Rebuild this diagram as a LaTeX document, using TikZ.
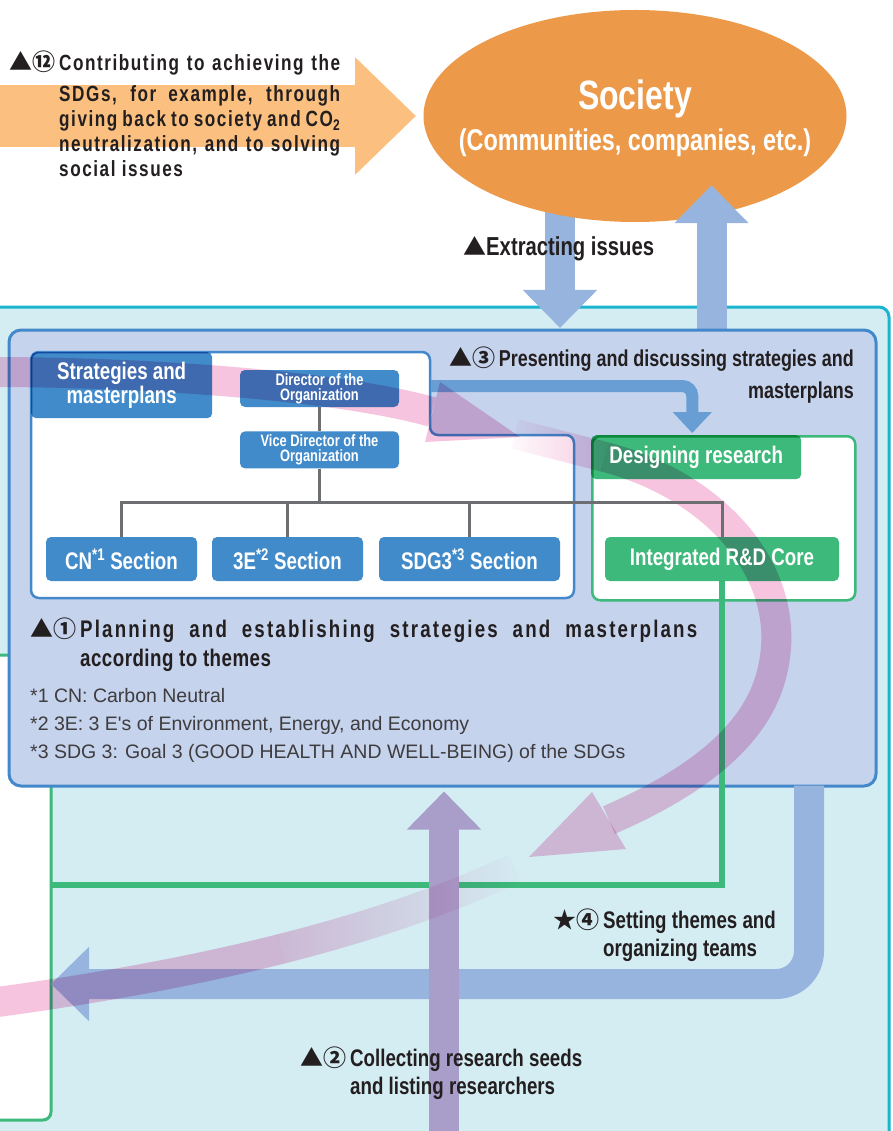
\documentclass[tikz,border=0pt]{standalone}
\usepackage{fontspec}
\setmainfont{Liberation Sans}
\newfontfamily\cond{Liberation Sans}[FakeStretch=0.78]
\newfontfamily\sym{Noto Sans CJK SC}
\usetikzlibrary{arrows.meta,positioning,calc,shapes.geometric,fadings}

\definecolor{socorange}{RGB}{236,154,74}
\definecolor{lightorange}{RGB}{251,192,127}
\definecolor{arrowblue}{RGB}{150,180,222}
\definecolor{midblue}{RGB}{104,158,212}
\definecolor{cyanbg}{RGB}{212,237,243}
\definecolor{cyanline}{RGB}{26,180,206}
\definecolor{boxblue}{RGB}{197,211,237}
\definecolor{boxline}{RGB}{67,136,202}
\definecolor{secblue}{RGB}{66,139,202}
\definecolor{coregreen}{RGB}{61,186,123}
\definecolor{treegray}{RGB}{109,110,113}
\definecolor{seedpurple}{RGB}{169,157,201}
\definecolor{loopink}{RGB}{246,196,222}
\definecolor{inktext}{RGB}{35,31,32}
\definecolor{footgray}{RGB}{62,60,62}

\begin{document}
\begin{tikzpicture}[x=1pt, y=-1pt]
    \tikzstyle{fat}=[line width=30pt, arrowblue, -{Triangle[length=38pt,width=72pt]}]
    \tikzstyle{loop}=[line width=30pt, loopink, blend mode=multiply]
    \tikzstyle{loophead}=[fill=loopink, blend mode=multiply]
    \tikzstyle{boxbase}=[rounded corners=5pt, inner sep=0pt, minimum height=44pt, text=white,
                        font=\cond\bfseries\fontsize{24}{24}\selectfont]
    \tikzstyle{secbox}=[boxbase, preaction={fill=secblue, blend mode=multiply}]
    \tikzstyle{greenbox}=[boxbase, preaction={fill=coregreen, blend mode=multiply}]
    \tikzstyle{headbox}=[secbox, minimum height=37pt, minimum width=159pt, align=center,
                        font=\cond\bfseries\fontsize{16.5}{15}\selectfont]
    \tikzstyle{tab}=[anchor=north west, rounded corners=8pt, align=center,
                        font=\cond\bfseries\fontsize{26}{28}\selectfont]
    \tikzstyle{tree}=[line width=3pt, treegray]
    \tikzstyle{note}=[inner sep=0pt, text=inktext, font=\cond\bfseries\fontsize{24}{28}\selectfont]

    \useasboundingbox (0,0) rectangle (892,1131);
    \clip (0,0) rectangle (892,1131);

    % Backgrounds
    \draw[cyanline, line width=3pt, fill=cyanbg, rounded corners=10pt]
        (-10,307) -- (889,307) -- (889,1150) -- (-10,1150) -- cycle;
    \node[draw=coregreen, fill=white, line width=3pt, rounded corners=8pt, inner sep=0pt,
          minimum width=80pt, minimum height=465pt] (field) at (11,887.5) {};

    % Society and its arrows
    \coordinate (contribtip) at (416,116);
    \draw[line width=62pt, lightorange, -{Triangle[length=61pt,width=114pt]}] (-5,116) -- (contribtip);
    \coordinate (issuestart) at (560,200);
    \coordinate (issuetip) at (560,328);
    \draw[fat] (issuestart) -- (issuetip);
    \node[ellipse, fill=socorange, minimum width=423pt, minimum height=212pt, inner sep=0pt] (soc) at (635,116) {};
    \node[text=white, align=center, inner sep=0pt, font=\cond\bfseries\fontsize{30}{41}\selectfont] (soctext)
          at (635,118) {{\fontsize{41}{41}\selectfont Society}\\(Communities, companies, etc.)};
    \draw[fat] (711.5,340) -- ($(soc.south)+(76.5,-37)$);

    \node[note, anchor=north west, align=left,
          font=\cond\bfseries\fontsize{22}{25}\selectfont\addfontfeature{LetterSpace=7}] (contribtext) at (59,51)
          {\makebox[281pt][s]{\llap{\sym\fontsize{23}{23}\selectfont ▲⑫\,}Contributing to achieving the}\\[6pt]
           \makebox[281pt][s]{SDGs, for example, through}\\
           \makebox[281pt][s]{giving back to society and CO\textsubscript{2}}\\
           \makebox[281pt][s]{neutralization, and to solving}\\
           social issues};
    \node[note, anchor=west, font=\cond\bfseries\fontsize{26}{26}\selectfont] (issuetext) at (463,249)
          {{\sym\fontsize{23}{23}\selectfont ▲}Extracting issues};

    % Planning box
    \node[draw=boxline, fill=boxblue, line width=3pt, rounded corners=12pt, inner sep=0pt,
          minimum width=867pt, minimum height=456pt] (planbox) at (442.5,558) {};
    \draw[boxline, line width=2.5pt, fill=white, rounded corners=8pt]
        (200,352) -- (430,352) -- (430,435) -- (574,435) -- (574,598) -- (31,598) -- (31,352) -- cycle;
    \node[draw=coregreen, fill=white, line width=2.5pt, rounded corners=8pt, inner sep=0pt, anchor=north west,
          minimum width=263pt, minimum height=164pt] (design) at (591,435) {};

    % Links and flows
    \coordinate (fieldin) at (51,885);
    \draw[line width=6pt, coregreen] (722,581) |- (fieldin);
    \coordinate (stratnotch) at (431,386);
    \draw[line width=12pt, midblue, rounded corners=10pt, -{Triangle[length=21pt,width=38pt]}]
        (stratnotch) -| ($(design.north)+(-31.5,-2)$);
    \coordinate (teamtip) at (51,984);
    \draw[fat, rounded corners=33pt] ($(planbox.south)+(366.5,-2)$) |- (teamtip);
    \draw[fat, seedpurple] (444,1140) -- ($(planbox.south)+(1.5,4)$);

    % Pink loop
    \draw[loop] (-10,372) .. controls (150,372) and (340,386) .. (432,412);
    \fill[loophead] (440,382) -- (520,437) -- (425,442) -- cycle;
    \draw[loop, path fading=west] (515,434) -- (605,457);
    \draw[loop] (605,457) .. controls (720,487) and (800,580) .. (770,680)
                          .. controls (752,740) and (690,785) .. (609,820);
    \fill[loophead] (592,792) -- (529,857) -- (626,849) -- cycle;
    \draw[loop, path fading=east] (515,868) .. controls (447.5,900) and (368.75,926.75) .. (280.6,949);
    \draw[loop] (280.6,949) .. controls (192.5,971.25) and (95,989) .. (-10,1003);

    % Boxes
    \coordinate (bus) at (319.5,502);
    \node[tab, secbox, minimum width=181pt, minimum height=66pt] (strat) at (31,352) {Strategies and\\masterplans};
    \node[tab, greenbox, minimum width=210pt, minimum height=44pt] (designtab) at (591,435) {Designing research};
    \node[headbox] (dir) at (319.5,388.5) {Director of the\\Organization};
    \node[headbox, below=24pt of dir] (vice) {Vice Director of the\\Organization};
    \foreach \name/\cx/\w/\txt in {cn/121.5/151/{CN\textsuperscript{*1} Section},
                                    tee/287.5/151/{3E\textsuperscript{*2} Section},
                                    sdg/469.5/181/{SDG3\textsuperscript{*3} Section}}
        \node[secbox, minimum width=\w pt] (\name) at (\cx,559) {\txt};
    \node[greenbox, minimum width=234pt] (core) at (722,559) {Integrated R\&D Core};

    \draw[tree] (dir) -- (vice);
    \draw[tree] (vice) -- (bus);
    \foreach \s in {cn,tee,sdg,core}
        \draw[tree] (bus) -| (\s);

    % Texts
    \node[note, anchor=north east, align=right, font=\cond\bfseries\fontsize{23}{32}\selectfont] (presenttext)
          at (854,347) {{\sym\fontsize{23}{23}\selectfont ▲③\,}Presenting and discussing strategies and\\masterplans};
    \node[note, anchor=north west, align=left,
          font=\cond\bfseries\fontsize{24}{29}\selectfont\addfontfeature{LetterSpace=9}] (plantext) at (80,618)
          {\makebox[617pt][s]{\llap{\sym\fontsize{23}{23}\selectfont ▲①\,}Planning and establishing strategies and masterplans}\\
           \addfontfeature{LetterSpace=2}according to themes};
    \node[anchor=north west, inner sep=0pt, align=left, text=footgray, font=\fontsize{19.5}{28}\selectfont] (notes)
          at (30,688) {*1 CN: Carbon Neutral\\*2 3E: 3 E\textquotesingle s of Environment, Energy, and Economy\\
                       *3 SDG 3: Goal 3 (GOOD HEALTH AND WELL-BEING) of the SDGs};
    \node[note, anchor=north west, align=left] (teamtext) at (603,909)
          {\llap{\sym\fontsize{23}{23}\selectfont ★④\,}Setting themes and\\organizing teams};
    \node[note, anchor=north west, align=left] (seedtext) at (350,1047)
          {\llap{\sym\fontsize{23}{23}\selectfont ▲②\,}Collecting research seeds\\and listing researchers};
\end{tikzpicture}
\end{document}
